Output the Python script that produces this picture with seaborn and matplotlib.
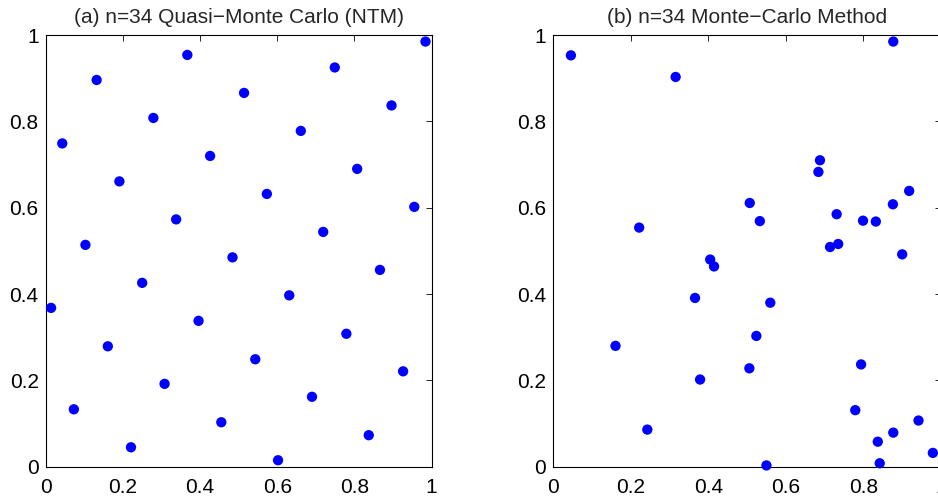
import numpy as np
import pandas as pd
import matplotlib
matplotlib.use('Agg')
import matplotlib.pyplot as plt
import seaborn as sns

# (a) quasi-Monte Carlo (NTM) points
qmc_x = [0.014, 0.043, 0.073, 0.103, 0.132, 0.161, 0.191, 0.221, 0.250, 0.279,
         0.308, 0.338, 0.367, 0.396, 0.426, 0.455, 0.484, 0.514, 0.543, 0.573,
         0.602, 0.631, 0.661, 0.690, 0.719, 0.749, 0.779, 0.807, 0.837, 0.866,
         0.896, 0.926, 0.955, 0.984]
qmc_y = [0.368, 0.749, 0.133, 0.514, 0.896, 0.279, 0.661, 0.045, 0.426, 0.808,
         0.192, 0.573, 0.954, 0.338, 0.720, 0.103, 0.485, 0.866, 0.249, 0.632,
         0.015, 0.397, 0.778, 0.162, 0.544, 0.925, 0.308, 0.690, 0.073, 0.456,
         0.837, 0.221, 0.602, 0.985]

# (b) plain Monte-Carlo points
mc_x = [0.046, 0.316, 0.877, 0.688, 0.684, 0.918, 0.507, 0.876, 0.731, 0.533,
        0.799, 0.832, 0.222, 0.735, 0.714, 0.900, 0.405, 0.415, 0.366, 0.560,
        0.161, 0.524, 0.506, 0.379, 0.794, 0.779, 0.942, 0.243, 0.877, 0.837,
        0.979, 0.550, 0.842]
mc_y = [0.953, 0.903, 0.985, 0.710, 0.683, 0.639, 0.611, 0.608, 0.585, 0.569,
        0.570, 0.568, 0.554, 0.516, 0.509, 0.492, 0.480, 0.464, 0.391, 0.380,
        0.280, 0.303, 0.228, 0.202, 0.237, 0.131, 0.107, 0.086, 0.079, 0.058,
        0.032, 0.003, 0.008]

tick_vals = [0, 0.2, 0.4, 0.6, 0.8, 1]
tick_labels = ['0', '0.2', '0.4', '0.6', '0.8', '1']
titles = ['(a) n=34 Quasi\u2212Monte Carlo (NTM)', '(b) n=34 Monte\u2212Carlo Method']

sns.set_style('white')
plt.rcParams['font.family'] = ['Liberation Sans', 'DejaVu Sans']

fig = plt.figure(figsize=(9.38, 4.99), dpi=100)
ax1 = fig.add_axes([0.0487, 0.0647, 0.4115, 0.865])
ax2 = fig.add_axes([0.5896, 0.0647, 0.4136, 0.865])

for ax, xs, ys, title in [(ax1, qmc_x, qmc_y, titles[0]), (ax2, mc_x, mc_y, titles[1])]:
    df = pd.DataFrame({'x': xs, 'y': ys})
    sns.scatterplot(data=df, x='x', y='y', ax=ax, color='blue', s=55,
                    edgecolor='none', linewidth=0, clip_on=False, zorder=3)
    ax.set_xlim(0, 1)
    ax.set_ylim(0, 1)
    ax.set_xticks(tick_vals)
    ax.set_xticklabels(tick_labels)
    ax.set_yticks(tick_vals)
    ax.set_yticklabels(tick_labels)
    ax.set_xlabel('')
    ax.set_ylabel('')
    ax.tick_params(direction='in', length=4, width=0.6, top=True, right=True,
                   labelsize=15, colors='black')
    ax.tick_params(axis='x', pad=8)
    ax.tick_params(axis='y', pad=5)
    for sp in ax.spines.values():
        sp.set_visible(True)
        sp.set_color('black')
        sp.set_linewidth(0.8)
    ax.set_title(title, fontsize=15, pad=9)

plt.savefig('out.png', dpi=100)
